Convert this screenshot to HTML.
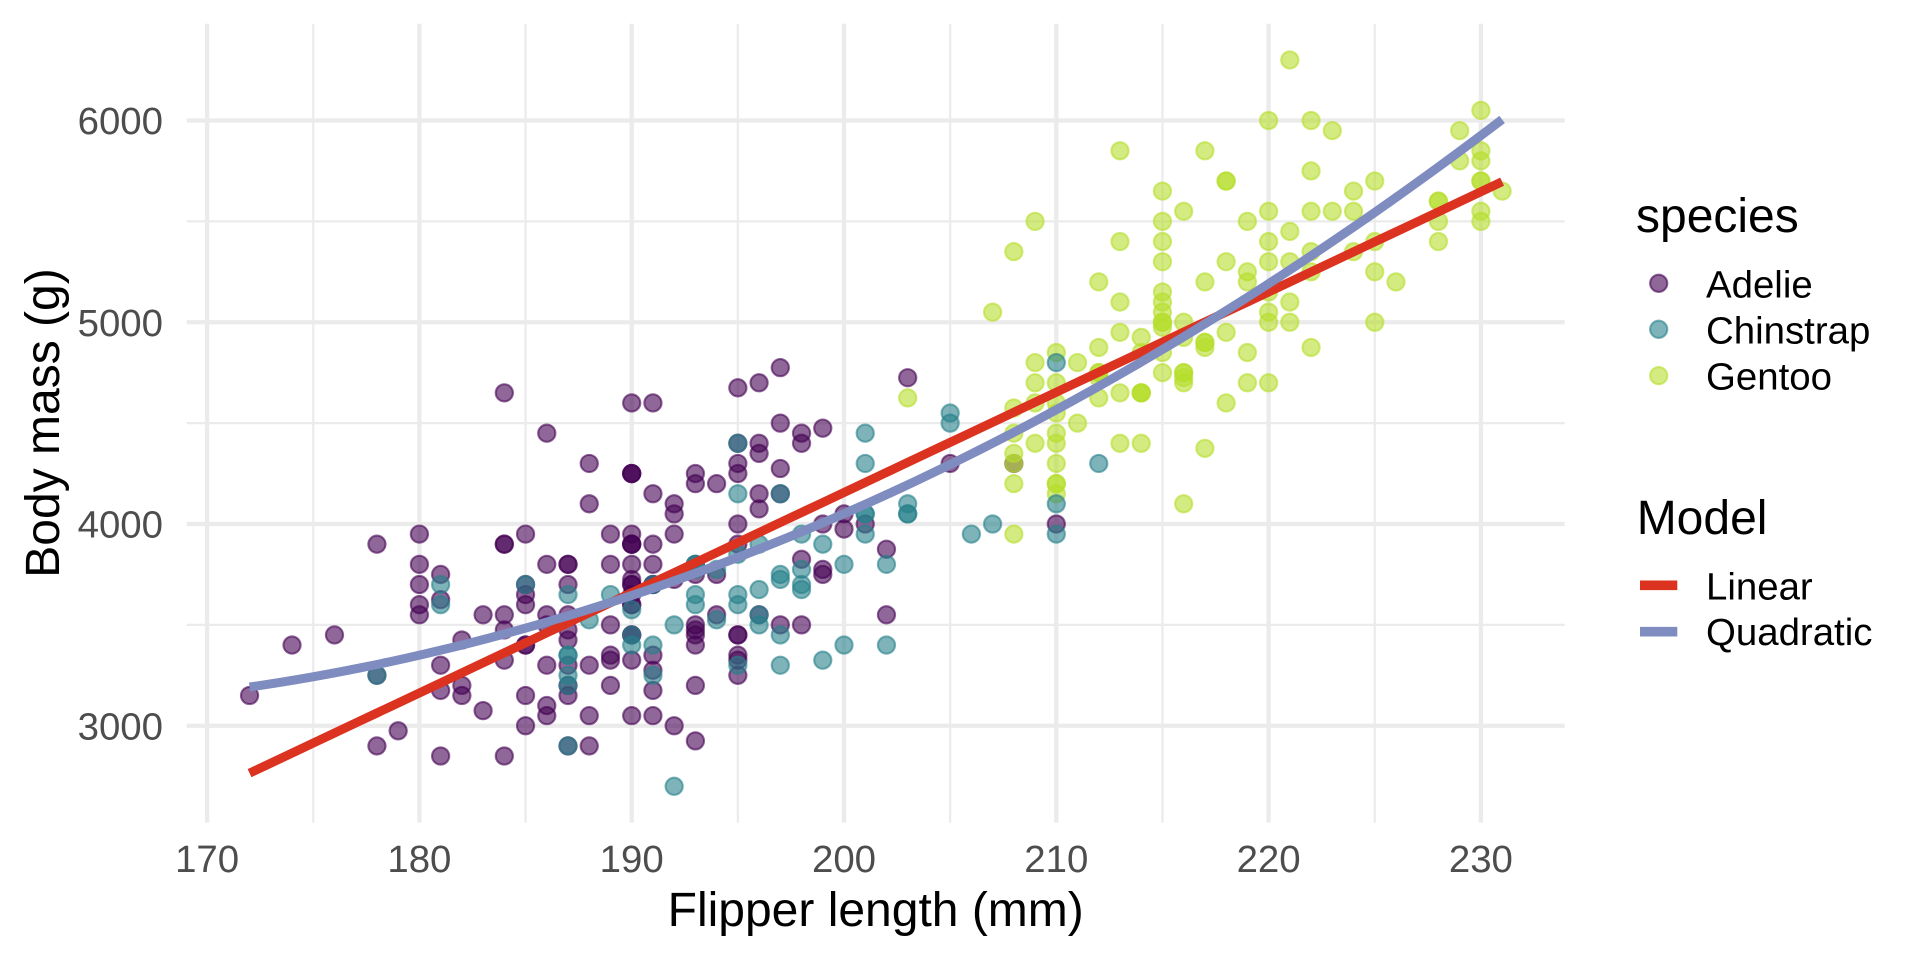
<!DOCTYPE html>
<html><head><meta charset="utf-8">
<style>
html,body{margin:0;padding:0;background:#fff;width:1920px;height:960px;overflow:hidden}
svg{display:block;font-family:"Liberation Sans",Arial,sans-serif}
</style></head><body>
<svg id="c" width="1920" height="960" viewBox="0 0 1920 960" xmlns="http://www.w3.org/2000/svg">
<rect width="1920" height="960" fill="#fff"/>
<!-- minor grid -->
<g stroke="#EBEBEB" stroke-width="2.2" fill="none">
<line x1="313.25" y1="23.7" x2="313.25" y2="822.6"/>
<line x1="525.55" y1="23.7" x2="525.55" y2="822.6"/>
<line x1="737.85" y1="23.7" x2="737.85" y2="822.6"/>
<line x1="950.15" y1="23.7" x2="950.15" y2="822.6"/>
<line x1="1162.45" y1="23.7" x2="1162.45" y2="822.6"/>
<line x1="1374.75" y1="23.7" x2="1374.75" y2="822.6"/>
<line x1="186.8" y1="221.375" x2="1564.7" y2="221.375"/>
<line x1="186.8" y1="423.125" x2="1564.7" y2="423.125"/>
<line x1="186.8" y1="624.875" x2="1564.7" y2="624.875"/>
</g>
<!-- major grid -->
<g stroke="#EBEBEB" stroke-width="4.3" fill="none">
<line x1="207.1" y1="23.7" x2="207.1" y2="822.6"/>
<line x1="419.4" y1="23.7" x2="419.4" y2="822.6"/>
<line x1="631.7" y1="23.7" x2="631.7" y2="822.6"/>
<line x1="844.0" y1="23.7" x2="844.0" y2="822.6"/>
<line x1="1056.3" y1="23.7" x2="1056.3" y2="822.6"/>
<line x1="1268.6" y1="23.7" x2="1268.6" y2="822.6"/>
<line x1="1480.9" y1="23.7" x2="1480.9" y2="822.6"/>
<line x1="186.8" y1="120.5" x2="1564.7" y2="120.5"/>
<line x1="186.8" y1="322.25" x2="1564.7" y2="322.25"/>
<line x1="186.8" y1="524.0" x2="1564.7" y2="524.0"/>
<line x1="186.8" y1="725.75" x2="1564.7" y2="725.75"/>
</g>
<g id="pts"></g>
<g id="lines"></g>
<!-- y tick labels -->
<g fill="#4D4D4D" font-size="38.4" text-anchor="end">
<text x="163" y="134.2">6000</text>
<text x="163" y="335.95">5000</text>
<text x="163" y="537.7">4000</text>
<text x="163" y="739.45">3000</text>
</g>
<!-- x tick labels -->
<g fill="#4D4D4D" font-size="38.4" text-anchor="middle">
<text x="207.1" y="872">170</text>
<text x="419.4" y="872">180</text>
<text x="631.7" y="872">190</text>
<text x="844.0" y="872">200</text>
<text x="1056.3" y="872">210</text>
<text x="1268.6" y="872">220</text>
<text x="1480.9" y="872">230</text>
</g>
<!-- axis titles -->
<text x="875.7" y="926" font-size="48" text-anchor="middle" fill="#000">Flipper length (mm)</text>
<text transform="translate(59,423) rotate(-90)" font-size="48" text-anchor="middle" fill="#000">Body mass (g)</text>
<!-- legend species -->
<text x="1636" y="232" font-size="48" fill="#000">species</text>
<g stroke-width="2.1" fill-opacity="0.6" stroke-opacity="0.6">
<circle cx="1658.7" cy="283.3" r="8.6" fill="#440154" stroke="#440154"/>
<circle cx="1658.7" cy="329.3" r="8.6" fill="#26808A" stroke="#26808A"/>
<circle cx="1658.7" cy="375.7" r="8.6" fill="#B5DD2B" stroke="#B5DD2B"/>
</g>
<g font-size="38.4" fill="#000">
<text x="1706" y="297.3">Adelie</text>
<text x="1706" y="343.3">Chinstrap</text>
<text x="1706" y="389.3">Gentoo</text>
</g>
<!-- legend model -->
<text x="1636.7" y="534" font-size="48" fill="#000">Model</text>
<line x1="1640" y1="585.3" x2="1677.3" y2="585.3" stroke="#DC3220" stroke-width="9.7"/>
<line x1="1640" y1="631.7" x2="1677.3" y2="631.7" stroke="#7F8CC0" stroke-width="9.7"/>
<g font-size="38.4" fill="#000">
<text x="1706" y="599.3">Linear</text>
<text x="1706" y="645">Quadratic</text>
</g>
</svg>
<script>
(function(){
var A=[181,3750,186,3800,195,3250,193,3450,190,3650,181,3625,195,4675,193,3475,190,4250,186,3300,180,3700,182,3200,191,3800,198,4400,185,3700,195,3450,197,4500,184,3325,194,4200,
174,3400,180,3600,189,3800,185,3950,180,3800,187,3800,183,3550,187,3200,172,3150,180,3950,
178,3250,178,3900,188,3300,184,3900,195,3325,196,4150,190,3950,180,3550,181,3300,184,4650,182,3150,195,3900,186,3100,196,4400,185,3000,190,4600,182,3425,179,2975,190,3450,191,4150,
186,3500,188,4300,190,3450,200,4050,187,2900,191,3700,186,3550,193,3800,181,2850,194,3750,185,3150,195,4400,185,3600,192,4050,184,2850,192,3950,195,3350,188,4100,
190,3050,198,4450,190,3600,190,3900,196,3550,197,4150,190,3700,195,4250,191,3700,184,3900,187,3550,195,4000,189,3200,196,4700,187,3800,193,4200,
191,3350,194,3550,190,3800,189,3500,189,3950,190,3600,202,3550,205,4300,185,3400,186,4450,187,3300,208,4300,190,3700,196,4350,178,2900,192,4100,
192,3725,203,4725,183,3075,190,4250,193,2925,184,3550,199,3750,190,3900,181,3175,197,4775,198,3825,191,4600,193,3200,197,4275,191,3900,196,4075,
188,2900,199,3775,189,3350,189,3325,187,3150,198,3500,176,3450,202,3875,186,3050,199,4000,191,3275,195,4300,191,3050,210,4000,190,3325,197,3500,
193,3500,199,4475,187,3425,190,3900,191,3175,200,3975,185,3400,193,4250,193,3400,187,3475,188,3050,190,3725,192,3000,185,3650,190,4250,184,3475,195,3450,193,3750,187,3700,201,4000];
var G=[211,4500,230,5700,210,4450,218,5700,215,5400,210,4550,211,4800,219,5200,209,4400,215,5150,214,4650,216,5550,214,4650,213,5850,210,4200,217,5850,210,4150,221,6300,209,4800,222,5350,218,5700,215,5000,213,4400,215,5050,215,5000,215,5100,216,4100,215,5650,210,4600,220,5550,222,5250,209,4700,207,5050,230,6050,220,5150,220,5400,213,4950,219,5250,208,4350,208,5350,208,3950,225,5700,210,4300,216,4750,222,5550,217,4900,210,4200,225,5400,213,5100,215,5300,210,4850,220,5300,210,4400,225,5000,217,4900,220,5050,208,4300,220,5000,208,4450,224,5550,208,4200,221,5300,214,4400,231,5650,219,4700,230,5700,214,4650,229,5800,220,4700,223,5550,216,4750,221,5000,221,5100,217,5200,216,4700,230,5800,209,4600,220,6000,215,4750,223,5950,212,4625,221,5450,212,4725,224,5350,212,4750,228,5600,218,4600,218,5300,212,4875,230,5550,218,4950,228,5400,212,4750,224,5650,214,4850,226,5200,216,4925,222,4875,203,4625,225,5250,219,4850,228,5600,215,4975,228,5500,216,4725,215,5500,210,4700,219,5500,208,4575,209,5500,216,5000,229,5950,213,4650,230,5500,217,4375,230,5850,217,4875,222,6000,214,4925,215,4850,222,5750,212,5200,213,5400];
var C=[192,3500,196,3900,193,3650,188,3525,197,3725,198,3950,178,3250,197,3750,195,4150,198,3700,193,3800,194,3775,185,3700,201,4050,190,3575,201,4050,197,3300,181,3700,190,3450,195,4400,181,3600,191,3400,187,2900,193,3800,195,3300,197,4150,200,3400,200,3800,191,3700,205,4550,187,3200,201,4300,187,3350,203,4100,195,3600,199,3900,195,3850,210,4800,192,2700,205,4500,210,3950,187,3650,196,3550,196,3500,196,3675,201,4450,190,3400,212,4300,187,3250,198,3675,199,3325,201,3950,193,3600,203,4050,187,3350,197,3450,191,3250,203,4050,202,3800,194,3525,206,3950,189,3650,195,3650,207,4000,202,3400,193,3775,210,4100,198,3775];
function px(f){return 207.1+(f-170)*21.23;}
function py(m){return 120.5+(6000-m)*0.20175;}
var NS="http://www.w3.org/2000/svg";
var pts=document.getElementById("pts");
function draw(arr,col){
  for(var i=0;i<arr.length;i+=2){
    var c=document.createElementNS(NS,"circle");
    c.setAttribute("cx",px(arr[i]).toFixed(2));
    c.setAttribute("cy",py(arr[i+1]).toFixed(2));
    c.setAttribute("r","8.6");
    c.setAttribute("fill",col);c.setAttribute("stroke",col);
    c.setAttribute("stroke-width","2.1");
    c.setAttribute("fill-opacity","0.6");c.setAttribute("stroke-opacity","0.6");
    pts.appendChild(c);
  }
}
draw(A,"#440154");draw(G,"#B5DD2B");draw(C,"#26808A");
var all=A.concat(G).concat(C);
var n=all.length/2,mx=0,my=0,i;
for(i=0;i<all.length;i+=2){mx+=all[i];my+=all[i+1];}
mx/=n;my/=n;
var S2=0,S3=0,S4=0,Sy=0,Suy=0,Su2y=0;
for(i=0;i<all.length;i+=2){
  var u=all[i]-mx,y=all[i+1];
  S2+=u*u;S3+=u*u*u;S4+=u*u*u*u;Suy+=u*y;Su2y+=u*u*y;Sy+=y;
}
// linear
var b1=Suy/S2,b0=my;
// quadratic: [n 0 S2; 0 S2 S3; S2 S3 S4] [a b c] = [Sy Suy Su2y]
function det3(m){return m[0][0]*(m[1][1]*m[2][2]-m[1][2]*m[2][1])-m[0][1]*(m[1][0]*m[2][2]-m[1][2]*m[2][0])+m[0][2]*(m[1][0]*m[2][1]-m[1][1]*m[2][0]);}
var M=[[n,0,S2],[0,S2,S3],[S2,S3,S4]],R=[Sy,Suy,Su2y];
var D=det3(M),sol=[];
for(var k=0;k<3;k++){
  var Mk=M.map(function(r,ri){return r.map(function(v,ci){return ci===k?R[ri]:v;});});
  sol.push(det3(Mk)/D);
}
var lines=document.getElementById("lines");
function poly(fn,col){
  var p=[];
  for(var j=0;j<80;j++){
    var x=172+(231-172)*j/79;
    p.push(px(x).toFixed(2)+","+py(fn(x-mx)).toFixed(2));
  }
  var e=document.createElementNS(NS,"polyline");
  e.setAttribute("points",p.join(" "));
  e.setAttribute("fill","none");e.setAttribute("stroke",col);
  e.setAttribute("stroke-width","9");e.setAttribute("stroke-linejoin","round");
  lines.appendChild(e);
}
poly(function(u){return b0+b1*u;},"#DC3220");
poly(function(u){return sol[0]+sol[1]*u+sol[2]*u*u;},"#7F8CC0");
})();
</script>
</body></html>
